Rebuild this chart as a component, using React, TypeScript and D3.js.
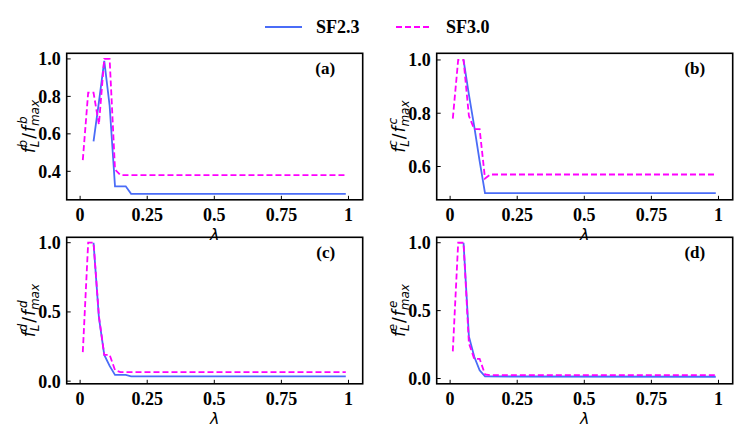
import * as d3 from 'd3';

// lambda grids
const lamBlueA = [0.05, 0.07, 0.09, 0.11, 0.13, 0.15, 0.17, 0.19, 0.99];
const lamPinkA = [0.01, 0.03, 0.05, 0.07, 0.09, 0.11, 0.13, 0.15, 0.99];
const lamBlueB = [0.05, 0.07, 0.09, 0.11, 0.13, 0.99];
const lamPinkB = [0.01, 0.03, 0.05, 0.07, 0.09, 0.11, 0.13, 0.15, 0.99];
const lamBlueC = [0.05, 0.07, 0.09, 0.11, 0.13, 0.15, 0.17, 0.19, 0.99];
const lamPinkC = [0.01, 0.03, 0.05, 0.07, 0.09, 0.11, 0.13, 0.15, 0.99];
const lamBlueD = [0.05, 0.07, 0.09, 0.11, 0.13, 0.99];
const lamPinkD = [0.01, 0.03, 0.05, 0.07, 0.09, 0.11, 0.13, 0.15, 0.99];

// normalised values, SF2.3 (blue) and SF3.0 (pink)
const sf23A = [0.56, 0.77, 0.99, 0.75, 0.32, 0.32, 0.32, 0.28, 0.28];
const sf30A = [0.46, 0.82, 0.82, 0.65, 1.0, 1.0, 0.41, 0.38, 0.38];
const sf23B = [1.0, 0.87, 0.75, 0.62, 0.5, 0.5];
const sf30B = [0.78, 1.0, 1.0, 0.79, 0.74, 0.74, 0.555, 0.57, 0.57];
const sf23C = [1.0, 0.46, 0.19, 0.11, 0.045, 0.045, 0.045, 0.035, 0.035];
const sf30C = [0.21, 1.0, 1.0, 0.47, 0.19, 0.19, 0.08, 0.065, 0.065];
const sf23D = [1.0, 0.31, 0.16, 0.06, 0.015, 0.013];
const sf30D = [0.2, 1.0, 1.0, 0.26, 0.145, 0.145, 0.03, 0.025, 0.025];

const xTicks = [0, 0.25, 0.5, 0.75, 1];
const xTickLabels = ['0', '0.25', '0.5', '0.75', '1'];
const yTicksA = [0.4, 0.6, 0.8, 1.0];
const yTicksB = [0.6, 0.8, 1.0];
const yTicksCD = [0.0, 0.5, 1.0];

const seriesNames = ['SF2.3', 'SF3.0'];
const BLUE = '#4a6cf7';
const PINK = '#ff00ff';
const SERIF = '"Liberation Serif", "Times New Roman", serif';
const MATH = '"DejaVu Sans", sans-serif';

const panels = [
  { tag: '(a)', sup: 'b', left: 66.7, top: 53.3, yDomain: [0.248, 1.03], yTicks: yTicksA, blueX: lamBlueA, blueY: sf23A, pinkX: lamPinkA, pinkY: sf30A },
  { tag: '(b)', sup: 'c', left: 436.7, top: 53.3, yDomain: [0.475, 1.025], yTicks: yTicksB, blueX: lamBlueB, blueY: sf23B, pinkX: lamPinkB, pinkY: sf30B },
  { tag: '(c)', sup: 'd', left: 66.7, top: 237.3, yDomain: [-0.019, 1.039], yTicks: yTicksCD, blueX: lamBlueC, blueY: sf23C, pinkX: lamPinkC, pinkY: sf30C },
  { tag: '(d)', sup: 'e', left: 436.7, top: 237.3, yDomain: [-0.039, 1.04], yTicks: yTicksCD, blueX: lamBlueD, blueY: sf23D, pinkX: lamPinkD, pinkY: sf30D },
];

const W = 296;
const H = 146.5;

// f_L^s / f_max^s in mathtext style, rotated
function YLabel({ x, y, s }: { x: number; y: number; s: string }) {
  return (
    <text
      transform={`translate(${x},${y}) rotate(-90)`}
      textAnchor="middle"
      fontFamily={MATH}
      fontSize={17}
      fontStyle="italic"
      fill="#000"
    >
      <tspan>f</tspan>
      <tspan fontSize={12} dy={4}>L</tspan>
      <tspan fontSize={12} dx={-7} dy={-12}>{s}</tspan>
      <tspan fontStyle="normal" dx={1} dy={8}>/</tspan>
      <tspan dx={1}>f</tspan>
      <tspan fontSize={12} dy={4}>max</tspan>
      <tspan fontSize={12} dx={-24} dy={-12}>{s}</tspan>
      <tspan fontSize={12} dx={15} dy={0}>{' '}</tspan>
    </text>
  );
}

function Panel(p: (typeof panels)[number]) {
  const x = d3.scaleLinear().domain([-0.05, 1.053]).range([p.left, p.left + W]);
  const y = d3.scaleLinear().domain(p.yDomain).range([p.top + H, p.top]);
  const line = d3
    .line<[number, number]>()
    .x((d) => x(d[0]))
    .y((d) => y(d[1]));
  const blue = p.blueX.map((v, i) => [v, p.blueY[i]] as [number, number]);
  const pink = p.pinkX.map((v, i) => [v, p.pinkY[i]] as [number, number]);
  const bottom = p.top + H;
  return (
    <g>
      <path d={line(blue) || ''} fill="none" stroke={BLUE} strokeWidth={1.8} />
      <path d={line(pink) || ''} fill="none" stroke={PINK} strokeWidth={1.8} strokeDasharray="6,3" />
      <rect x={p.left} y={p.top} width={W} height={H} fill="none" stroke="#000" strokeWidth={1.6} />
      {xTicks.map((t, i) => (
        <g key={'x' + i}>
          <line x1={x(t)} x2={x(t)} y1={bottom} y2={bottom - 4} stroke="#000" strokeWidth={1} />
          <text x={x(t)} y={bottom + 21} textAnchor="middle" fontFamily={SERIF} fontWeight="bold" fontSize={18}>
            {xTickLabels[i]}
          </text>
        </g>
      ))}
      {p.yTicks.map((t, i) => (
        <g key={'y' + i}>
          <line x1={p.left} x2={p.left + 4} y1={y(t)} y2={y(t)} stroke="#000" strokeWidth={1} />
          <text x={p.left - 6} y={y(t) + 6.5} textAnchor="end" fontFamily={SERIF} fontWeight="bold" fontSize={18}>
            {t.toFixed(1)}
          </text>
        </g>
      ))}
      <text x={p.left + 268.5} y={p.top + 21} textAnchor="end" fontFamily={SERIF} fontWeight="bold" fontSize={17}>
        {p.tag}
      </text>
      <text
        x={p.left + W / 2}
        y={bottom + 40}
        textAnchor="middle"
        fontFamily={MATH}
        fontStyle="italic"
        fontSize={16}
      >
        λ
      </text>
      <YLabel x={p.left - 32} y={p.top + H / 2} s={p.sup} />
    </g>
  );
}

export default function App() {
  return (
    <svg
      width={748}
      height={437}
      style={{ position: 'absolute', left: 0, top: 0, background: '#fff' }}
    >
      <line x1={265} x2={302} y1={27} y2={27} stroke={BLUE} strokeWidth={1.8} />
      <text x={316} y={33} fontFamily={SERIF} fontWeight="bold" fontSize={18}>
        {seriesNames[0]}
      </text>
      <line x1={396} x2={432} y1={27} y2={27} stroke={PINK} strokeWidth={1.8} strokeDasharray="6,3" />
      <text x={446} y={33} fontFamily={SERIF} fontWeight="bold" fontSize={18}>
        {seriesNames[1]}
      </text>
      {panels.map((p) => (
        <Panel key={p.tag} {...p} />
      ))}
    </svg>
  );
}
